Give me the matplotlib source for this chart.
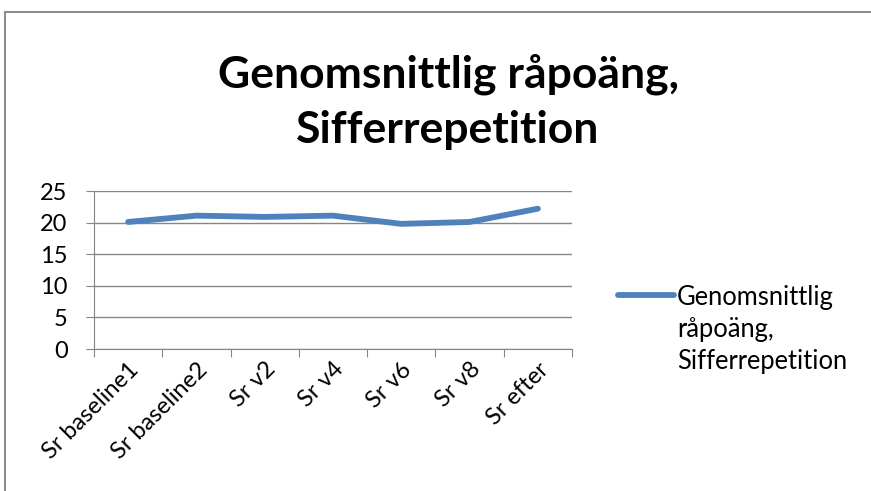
import matplotlib.pyplot as plt
from matplotlib.patches import Rectangle

plt.rcParams['font.family'] = ['Lato', 'DejaVu Sans']

kategorier = ['Sr baseline1', 'Sr baseline2', 'Sr v2', 'Sr v4', 'Sr v6', 'Sr v8', 'Sr efter']
medel = [20.1, 21.1, 20.9, 21.1, 19.8, 20.1, 22.2]
serienamn = 'Genomsnittlig\nråpoäng,\nSifferrepetition'
titel = 'Genomsnittlig råpoäng,\nSifferrepetition'

fig = plt.figure(figsize=(8.71, 4.91), dpi=100)
ax = fig.add_axes([94 / 871, 1 - 349 / 491, (572 - 94) / 871, (349 - 191) / 491])

# ram runt hela diagrammet
fig.patches.append(Rectangle((5 / 871, -0.1), 1.2, 1 - 12 / 491 + 0.1, transform=fig.transFigure,
                             fill=False, edgecolor='#8c8c8c', linewidth=1.5))

x = list(range(len(kategorier)))
ax.plot(x, medel, color='#4F81BD', linewidth=4.2, solid_capstyle='round', solid_joinstyle='round',
        label=serienamn, zorder=3)

ax.set_xlim(-0.5, len(kategorier) - 0.5)
ax.set_ylim(0, 25)
ax.set_yticks(range(0, 26, 5))
ax.yaxis.grid(True, color='#868686', linewidth=1)
ax.set_axisbelow(True)

# streck mellan kategorierna, etiketter i mitten
ax.set_xticks([i - 0.5 for i in range(len(kategorier) + 1)])
ax.set_xticklabels([])
ax.set_xticks(x, minor=True)
ax.set_xticklabels(kategorier, minor=True, rotation=45, ha='right', rotation_mode='anchor', fontsize=17)
ax.tick_params(axis='x', which='major', length=6, color='#868686', direction='out')
ax.tick_params(axis='x', which='minor', length=0, pad=7)
ax.tick_params(axis='y', length=6, color='#868686', labelsize=17, pad=13)

for s in ['top', 'right']:
    ax.spines[s].set_visible(False)
for s in ['left', 'bottom']:
    ax.spines[s].set_color('#868686')

fig.text(448 / 871, 1 - 102 / 491, titel, ha='center', va='center', fontsize=32, fontweight='bold',
         linespacing=1.45)

leg = ax.legend(loc='upper left', bbox_to_anchor=(618 / 871, 1 - 285 / 491), bbox_transform=fig.transFigure,
                frameon=False, fontsize=18.4, handlelength=2.2, handletextpad=0.1, borderpad=0, borderaxespad=0)
for t in leg.get_texts():
    t.set_linespacing(1.36)
for h in leg.legend_handles:
    y0 = h.get_ydata()
    h.set_ydata([v + 26 for v in y0])

fig.savefig('out.png', dpi=100)
